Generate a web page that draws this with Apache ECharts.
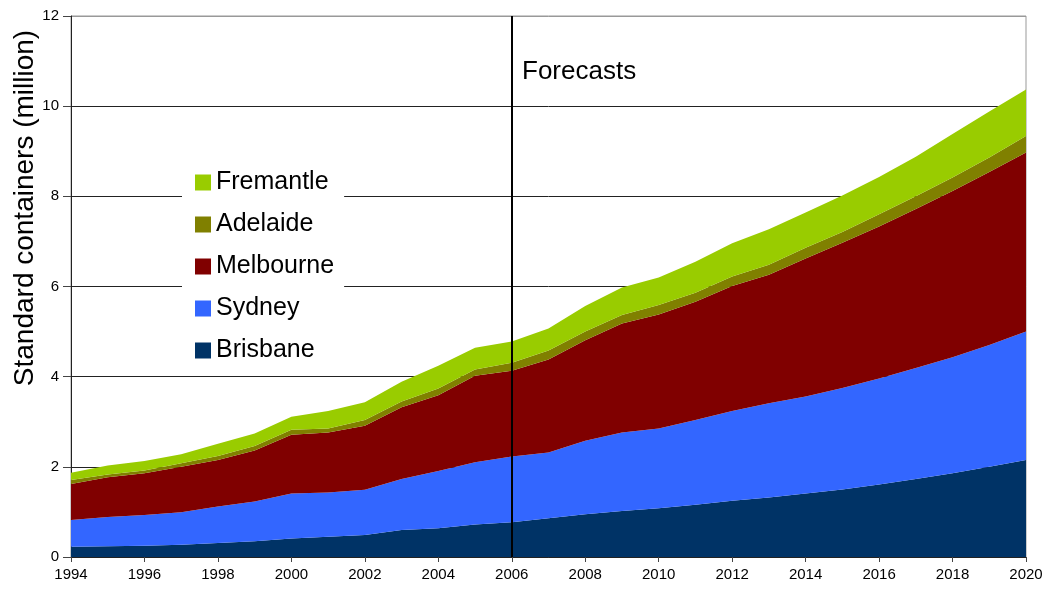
<!DOCTYPE html>
<html>
<head>
<meta charset="utf-8">
<script src="https://cdn.jsdelivr.net/npm/echarts@6/dist/echarts.min.js"></script>
<style>
  html, body { margin: 0; padding: 0; background: #fff; }
  #chart { width: 1047px; height: 590px; }
</style>
</head>
<body>
<div id="chart"></div>
<script>
// Container throughput by port, million standard containers (TEU)
const years = ['1994','1995','1996','1997','1998','1999','2000','2001','2002','2003','2004','2005','2006',
  '2007','2008','2009','2010','2011','2012','2013','2014','2015','2016','2017','2018','2019','2020'];

const brisbane  = [0.23,0.24,0.25,0.27,0.31,0.35,0.41,0.45,0.49,0.60,0.64,0.72,0.77,
  0.86,0.95,1.02,1.08,1.16,1.25,1.32,1.41,1.50,1.61,1.73,1.86,2.00,2.15];
const sydney    = [0.59,0.65,0.68,0.72,0.81,0.88,1.00,0.98,1.00,1.13,1.27,1.38,1.46,
  1.46,1.63,1.74,1.77,1.88,1.99,2.09,2.15,2.25,2.35,2.46,2.57,2.70,2.85];
const melbourne = [0.80,0.88,0.93,1.01,1.03,1.13,1.30,1.33,1.42,1.59,1.68,1.92,1.90,
  2.06,2.23,2.42,2.53,2.62,2.77,2.85,3.06,3.22,3.37,3.53,3.69,3.84,3.97];
const adelaide  = [0.09,0.06,0.06,0.08,0.09,0.10,0.11,0.09,0.13,0.13,0.15,0.14,0.18,
  0.20,0.19,0.19,0.21,0.20,0.21,0.22,0.24,0.24,0.27,0.28,0.30,0.32,0.37];
const fremantle = [0.16,0.20,0.21,0.20,0.27,0.28,0.29,0.39,0.39,0.44,0.50,0.48,0.47,
  0.49,0.57,0.61,0.61,0.69,0.74,0.79,0.78,0.81,0.83,0.88,0.96,1.02,1.03];

const forecastStart = '2006';
const yTicks = [0, 2, 4, 6, 8, 10, 12];

const FONT = '"Liberation Sans", Arial, sans-serif';

const ports = [
  { name: 'Brisbane',  data: brisbane,  color: '#003366' },
  { name: 'Sydney',    data: sydney,    color: '#3366FF' },
  { name: 'Melbourne', data: melbourne, color: '#800000' },
  { name: 'Adelaide',  data: adelaide,  color: '#808000' },
  { name: 'Fremantle', data: fremantle, color: '#99CC00' }
];

const series = ports.map((p, i) => ({
  name: p.name,
  type: 'line',
  stack: 'total',
  data: p.data,
  symbol: 'none',
  smooth: false,
  lineStyle: { width: 0, color: p.color },
  itemStyle: { color: p.color },
  areaStyle: { color: p.color, opacity: 1 },
  z: 2
}));

// Vertical divider where the forecast period begins
series[series.length - 1].markLine = {
  silent: true,
  symbol: ['none', 'none'],
  label: { show: false },
  lineStyle: { color: '#000', width: 2, type: 'solid' },
  data: [{ xAxis: forecastStart }],
  z: 10
};

const chart = echarts.init(document.getElementById('chart'), null, { renderer: 'canvas' });

chart.setOption({
  animation: false,
  backgroundColor: '#fff',
  textStyle: { fontFamily: FONT },
  grid: {
    left: 71, right: 21, top: 16, bottom: 33,
    show: true, borderColor: '#999', borderWidth: 1, backgroundColor: 'transparent'
  },
  legend: {
    orient: 'vertical',
    left: 182,
    top: 162,
    data: ports.map(p => p.name).reverse(),
    icon: 'rect',
    itemWidth: 16,
    itemHeight: 16,
    itemGap: 17,
    itemTextGap: 7,
    padding: [8, 10, 8, 13],
    backgroundColor: '#fff',
    textStyle: { fontFamily: FONT, fontSize: 25, color: '#000' },
    lineStyle: { width: 0 }
  },
  xAxis: {
    type: 'category',
    data: years,
    boundaryGap: false,
    axisLine: { lineStyle: { color: '#222', width: 1 } },
    axisTick: { show: true, interval: 1, length: 5, lineStyle: { color: '#444' } },
    axisLabel: { interval: 1, fontSize: 15, color: '#000', margin: 10, fontFamily: FONT },
    splitLine: { show: false }
  },
  yAxis: {
    type: 'value',
    min: yTicks[0],
    max: yTicks[yTicks.length - 1],
    interval: 2,
    axisLine: { show: true, lineStyle: { color: '#222', width: 1 } },
    axisTick: { show: true, length: 8, lineStyle: { color: '#444' } },
    axisLabel: { fontSize: 15, color: '#000', margin: 12, fontFamily: FONT },
    splitLine: {
      show: true,
      lineStyle: { color: ['#222', '#222', '#222', '#222', '#222', '#222', '#999'], width: 1 }
    }
  },
  graphic: [
    {
      type: 'text',
      x: 25, y: 208,
      rotation: Math.PI / 2,
      style: {
        text: 'Standard containers (million)',
        font: '28px ' + FONT,
        fill: '#000',
        align: 'center',
        verticalAlign: 'middle'
      }
    },
    {
      type: 'text',
      x: 522, y: 72,
      style: {
        text: 'Forecasts',
        font: '26px ' + FONT,
        fill: '#000',
        align: 'left',
        verticalAlign: 'middle'
      },
      z: 20
    }
  ],
  series: series
});
</script>
</body>
</html>
